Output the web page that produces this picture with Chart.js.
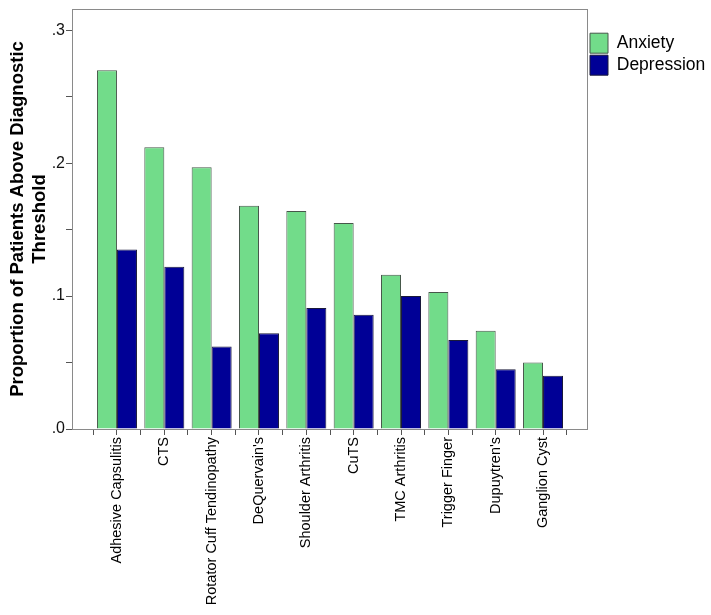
<!DOCTYPE html>
<html>
<head>
<meta charset="utf-8">
<script src="https://cdn.jsdelivr.net/npm/chart.js@4.4.1/dist/chart.umd.min.js"></script>
<style>
  html, body { margin: 0; padding: 0; background: #fff; }
  #wrap { width: 711px; height: 615px; position: relative; }
</style>
</head>
<body>
<div id="wrap"><canvas id="chart"></canvas></div>
<script>
// カテゴリと系列の値
const categories = [
  "Adhesive Capsulitis", "CTS", "Rotator Cuff Tendinopathy", "DeQuervain's",
  "Shoulder Arthritis", "CuTS", "TMC Arthritis", "Trigger Finger",
  "Dupuytren's", "Ganglion Cyst"
];
const anxiety = [0.270, 0.212, 0.197, 0.168, 0.164, 0.155, 0.116, 0.103, 0.074, 0.050];
const depression = [0.135, 0.122, 0.062, 0.072, 0.091, 0.086, 0.100, 0.067, 0.045, 0.040];
const yTickLabels = [".0", ".1", ".2", ".3"];

const toPoints = (arr) => arr.map((v, i) => ({ x: i, y: v }));

// プロット枠を描く
const framePlugin = {
  id: "frame",
  afterDatasetsDraw(chart) {
    const { ctx, chartArea: a } = chart;
    ctx.save();
    ctx.strokeStyle = "#8a8a8a";
    ctx.lineWidth = 1;
    ctx.strokeRect(a.left + 0.5, a.top + 0.5, a.right - a.left - 1, a.bottom - a.top);
    ctx.restore();
  },
};

new Chart(document.getElementById("chart"), {
  type: "bar",
  data: {
    datasets: [
      {
        label: "Anxiety",
        data: toPoints(anxiety),
        backgroundColor: "#72dc8a",
        borderColor: "#46574a",
        borderWidth: 1,
      },
      {
        label: "Depression",
        data: toPoints(depression),
        backgroundColor: "#000096",
        borderColor: "#1a1a3a",
        borderWidth: 1,
      },
    ],
  },
  options: {
    responsive: true,
    maintainAspectRatio: false,
    animation: false,
    layout: { padding: { top: 8, left: 0, right: 0, bottom: 0 } },
    // 目盛りが半刻みなので幅の比率は2倍にする
    datasets: { bar: { categoryPercentage: 1.69, barPercentage: 1.0 } },
    scales: {
      x: {
        type: "linear",
        min: -0.95,
        max: 9.95,
        offset: false,
        grid: { offset: false, drawOnChartArea: false, tickLength: 6, color: "#555" },
        border: { display: false },
        ticks: {
          stepSize: 0.5,
          includeBounds: false,
          autoSkip: false,
          minRotation: 90,
          maxRotation: 90,
          padding: 2,
          color: "#000",
          font: { family: "Liberation Sans, Arial, sans-serif", size: 14.5 },
          callback: (v) => (Number.isInteger(v) && categories[v] !== undefined ? categories[v] : ""),
        },
        afterFit: (scale) => { scale.height = 186; },
      },
      y: {
        min: 0,
        max: 0.316,
        grid: { drawOnChartArea: false, tickLength: 6, color: "#555" },
        border: { display: false },
        ticks: {
          stepSize: 0.05,
          includeBounds: false,
          padding: 1,
          color: "#111",
          font: { family: "Liberation Sans, Arial, sans-serif", size: 16, lineHeight: 1 },
          callback: (v) => {
            const k = Math.round(v * 100);
            return k % 10 === 0 ? yTickLabels[k / 10] : "";
          },
        },
        title: {
          display: true,
          text: ["Proportion of Patients Above Diagnostic", "Threshold"],
          color: "#000",
          padding: { top: 7, bottom: 0 },
          font: { family: "Liberation Sans, Arial, sans-serif", size: 18.5, weight: "bold", lineHeight: 1.2 },
        },
        afterFit: (scale) => { scale.width = 72; },
      },
    },
    plugins: {
      legend: {
        position: "right",
        align: "start",
        maxWidth: 123,
        title: { display: true, text: "", padding: 11, font: { size: 1 } },
        labels: {
          boxWidth: 18,
          boxHeight: 20,
          padding: 2,
          color: "#000",
          font: { family: "Liberation Sans, Arial, sans-serif", size: 17.5 },
        },
      },
      tooltip: { enabled: false },
    },
  },
  plugins: [framePlugin],
});
</script>
</body>
</html>
